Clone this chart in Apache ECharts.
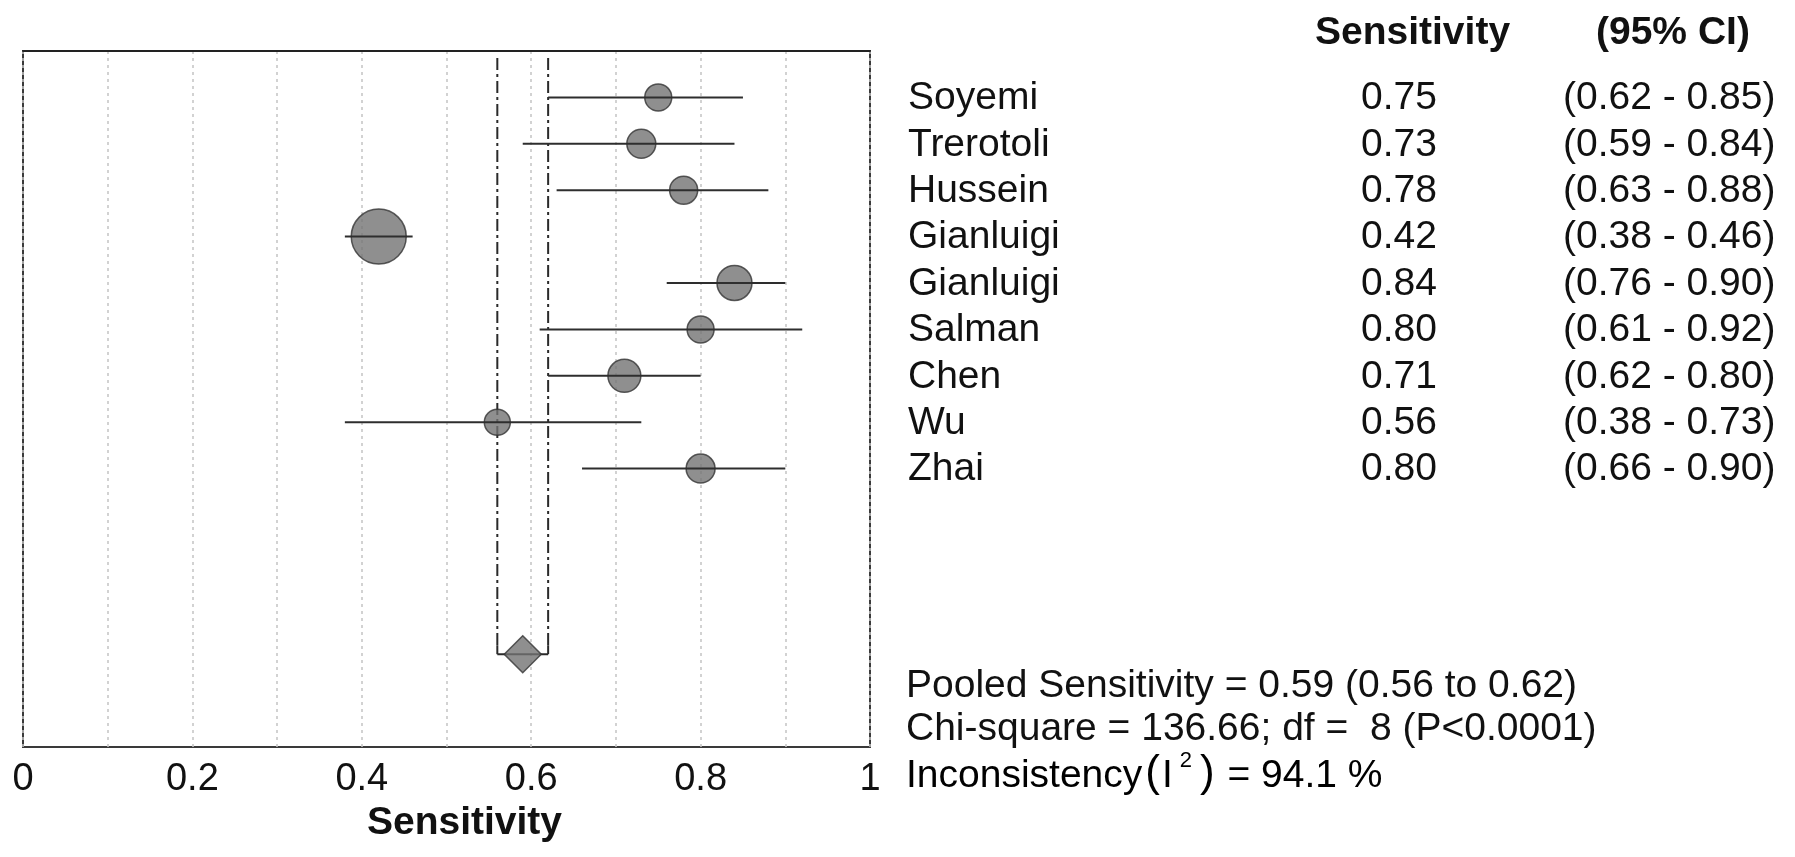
<!DOCTYPE html>
<html>
<head>
<meta charset="utf-8">
<script src="https://cdn.jsdelivr.net/npm/echarts@6/dist/echarts.min.js"></script>
<style>
html,body{margin:0;padding:0;background:#fff;}
#chart{width:1795px;height:857px;}
</style>
</head>
<body>
<div id="chart"></div>
<script>
// ---- data ----
const studies = ['Soyemi','Trerotoli','Hussein','Gianluigi','Gianluigi','Salman','Chen','Wu','Zhai'];
const sensitivity = [0.75,0.73,0.78,0.42,0.84,0.80,0.71,0.56,0.80];
const ciLow  = [0.62,0.59,0.63,0.38,0.76,0.61,0.62,0.38,0.66];
const ciHigh = [0.85,0.84,0.88,0.46,0.90,0.92,0.80,0.73,0.90];
const studyWeights = [1.0,1.15,1.08,4.15,1.68,1.0,1.49,0.93,1.15];
const pooled = [0.59, 0.56, 0.62]; // estimate, low, high
const xTickValues = [0,0.2,0.4,0.6,0.8,1];
const xTickLabels = ['0','0.2','0.4','0.6','0.8','1'];
const statLines = [
  'Pooled Sensitivity = 0.59 (0.56 to 0.62)',
  'Chi-square = 136.66; df =  8 (P<0.0001)'
];
const headers = ['Sensitivity','(95% CI)'];

// ---- chart ----
const FONT = '"Liberation Sans", Arial, Helvetica, sans-serif';
const chart = echarts.init(document.getElementById('chart'), null, {renderer:'canvas'});
const pooledRow = 13;

const ciData = studies.map((s,i)=>[ciLow[i], ciHigh[i], i+1]);
const pointData = studies.map((s,i)=>[sensitivity[i], i+1]);
const textData = studies.map((s,i)=>[sensitivity[i], i+1, i]);

const fmt = v => v.toFixed(2);

const option = {
  backgroundColor:'#fff',
  animation:false,
  grid:{left:23, top:51, width:847, height:696, show:true, borderColor:'#3a3a3a', borderWidth:2, backgroundColor:'transparent'},
  xAxis:{
    type:'value', min:0, max:1, interval:0.1,
    axisLine:{show:true, lineStyle:{color:'#222', width:2}},
    axisTick:{show:false},
    axisLabel:{
      fontFamily:FONT, fontSize:38, color:'#111', margin:14,
      formatter: v => { const k = xTickValues.findIndex(t=>Math.abs(t-v)<1e-9); return k>=0 ? xTickLabels[k] : ''; }
    },
    splitLine:{show:true, lineStyle:{color:'#c4c4c4', width:1.5, type:[3,4]}},
    name:'Sensitivity', nameLocation:'middle', nameGap:56,
    nameTextStyle:{fontFamily:FONT, fontSize:39, fontWeight:'bold', color:'#111', padding:[0,0,0,36]}
  },
  yAxis:{
    type:'value', min:0, max:15, inverse:true, show:false,
    splitLine:{show:false}
  },
  series:[
    // pooled CI dash-dot verticals
    {
      type:'custom', z:2, silent:true,
      data:[[pooled[1], pooled[2]]],
      renderItem:(params, api)=>{
        const lo = api.value(0), hi = api.value(1);
        const pTop1 = api.coord([lo, 0.15]), pBot1 = api.coord([lo, pooledRow]);
        const pTop2 = api.coord([hi, 0.15]), pBot2 = api.coord([hi, pooledRow]);
        const st = {stroke:'#2a2a2a', lineWidth:2, lineDash:[12,4,3,4]};
        return {type:'group', children:[
          {type:'line', shape:{x1:pTop1[0],y1:pTop1[1],x2:pBot1[0],y2:pBot1[1]-8}, style:st},
          {type:'line', shape:{x1:pTop2[0],y1:pTop2[1],x2:pBot2[0],y2:pBot2[1]-8}, style:st},
          {type:'line', shape:{x1:pBot1[0],y1:pBot1[1]-9,x2:pBot1[0],y2:pBot1[1]}, style:{stroke:'#2a2a2a', lineWidth:2}},
          {type:'line', shape:{x1:pBot2[0],y1:pBot2[1]-9,x2:pBot2[0],y2:pBot2[1]}, style:{stroke:'#2a2a2a', lineWidth:2}},
          {type:'line', shape:{x1:pBot1[0],y1:pBot1[1],x2:pBot2[0],y2:pBot2[1]}, style:{stroke:'#2a2a2a', lineWidth:2}}
        ]};
      }
    },
    // study point estimates
    {
      type:'scatter', z:3, silent:true,
      data:pointData,
      symbol:'circle',
      symbolSize:(val, params)=> 27*Math.sqrt(studyWeights[params.dataIndex]),
      itemStyle:{color:'#737373', borderColor:'#333', borderWidth:1.5}
    },
    // CI lines
    {
      type:'custom', z:4, silent:true,
      data:ciData,
      encode:{x:[0,1], y:2},
      renderItem:(params, api)=>{
        const a = api.coord([api.value(0), api.value(2)]);
        const b = api.coord([api.value(1), api.value(2)]);
        return {type:'line', shape:{x1:a[0],y1:a[1],x2:b[0],y2:b[1]}, style:{stroke:'#2e2e2e', lineWidth:2}};
      }
    },
    // pooled diamond
    {
      type:'scatter', z:5, silent:true,
      data:[[pooled[0], pooledRow]],
      symbol:'diamond', symbolSize:[37,37],
      itemStyle:{color:'#737373', borderColor:'#333', borderWidth:1.5}
    },
    // right-hand text table
    {
      type:'custom', z:6, silent:true, clip:false,
      data:textData,
      encode:{x:0, y:1},
      renderItem:(params, api)=>{
        const i = api.value(2);
        const y = api.coord([0, api.value(1)])[1] + 1;
        const base = {font:'39px '+FONT, fill:'#111', textVerticalAlign:'middle'};
        return {type:'group', children:[
          {type:'text', x:908, y:y, style:Object.assign({}, base, {text:studies[i], textAlign:'left'})},
          {type:'text', x:1399, y:y, style:Object.assign({}, base, {text:fmt(sensitivity[i]), textAlign:'center'})},
          {type:'text', x:1563, y:y, style:Object.assign({}, base, {text:'('+fmt(ciLow[i])+' - '+fmt(ciHigh[i])+')', textAlign:'left'})}
        ]};
      }
    }
  ],
  graphic:[
    {type:'text', left:1315, top:14, style:{text:headers[0], font:'bold 39px '+FONT, fill:'#111'}},
    {type:'text', left:1596, top:14, style:{text:headers[1], font:'bold 39px '+FONT, fill:'#111'}},
    {type:'text', left:906, top:667, style:{text:statLines[0], font:'39px '+FONT, fill:'#111'}},
    {type:'text', left:906, top:710, style:{text:statLines[1], font:'39px '+FONT, fill:'#111'}},
    {type:'text', left:906, top:750, style:{
      text:'{a|Inconsistency}{p|(}{a|I}{s|2}{p|)}{a| = 94.1 %}',
      rich:{
        a:{fontFamily:FONT, fontSize:39, color:'#111', verticalAlign:'bottom', lineHeight:46},
        p:{fontFamily:FONT, fontSize:44, color:'#111', verticalAlign:'bottom', lineHeight:46, padding:[0,2,0,3]},
        s:{fontFamily:FONT, fontSize:22, color:'#111', verticalAlign:'top', lineHeight:46, padding:[0,5,0,7]}
      }
    }}
  ]
};
chart.setOption(option);
</script>
</body>
</html>
